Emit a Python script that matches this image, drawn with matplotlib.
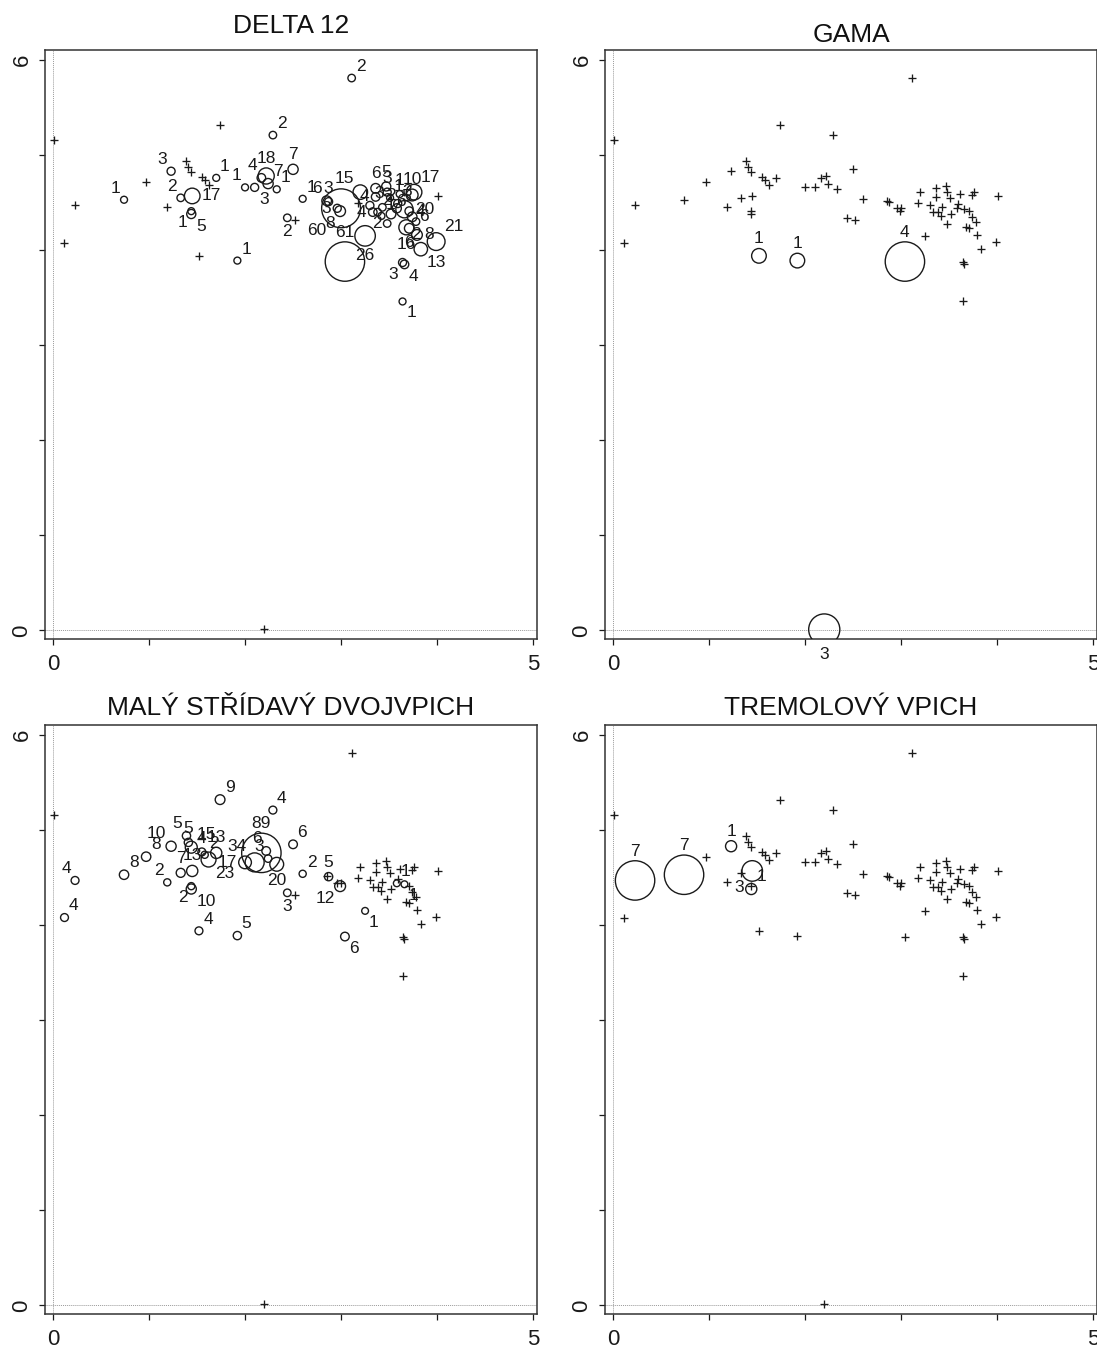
import matplotlib
matplotlib.use("Agg")
import matplotlib.pyplot as plt

plt.rcParams['font.family'] = ['Liberation Sans', 'DejaVu Sans']

# ---------------- data ----------------
titles = ["DELTA 12", "GAMA", "MALÝ STŘÍDAVÝ DVOJVPICH", "TREMOLOVÝ VPICH"]

# all sample positions (union of every panel)
pos_x = [0.01, 0.23, 0.12, 0.74, 0.97, 1.23, 1.19, 1.33, 1.39, 1.41,
         1.44, 1.45, 1.44, 1.44, 1.55, 1.58, 1.62, 1.70, 1.74, 2.00,
         2.10, 2.17, 2.22, 2.24, 2.33, 2.29, 2.50, 2.44, 2.52, 2.60,
         3.11, 2.85, 2.87, 2.96, 2.99, 3.20, 3.18, 3.25, 3.30, 3.36,
         3.36, 3.47, 3.48, 3.51, 3.61, 3.74, 3.76, 4.01, 3.43, 3.33,
         3.38, 3.42, 3.52, 3.59, 3.58, 3.66, 3.71, 3.74, 3.78, 3.48,
         3.68, 3.71, 3.79, 3.99, 3.83, 3.64, 3.66, 3.64, 1.52, 1.92,
         3.04, 2.20, 3.00]
pos_y = [5.16, 4.47, 4.08, 4.53, 4.72, 4.83, 4.45, 4.55, 4.94, 4.87,
         4.82, 4.57, 4.41, 4.38, 4.77, 4.74, 4.69, 4.76, 5.32, 4.66,
         4.66, 4.76, 4.78, 4.70, 4.64, 5.21, 4.85, 4.34, 4.32, 4.54,
         5.81, 4.52, 4.51, 4.44, 4.41, 4.61, 4.50, 4.15, 4.47, 4.65,
         4.56, 4.67, 4.61, 4.55, 4.59, 4.58, 4.61, 4.57, 4.45, 4.40,
         4.40, 4.36, 4.38, 4.49, 4.44, 4.43, 4.41, 4.35, 4.30, 4.28,
         4.24, 4.23, 4.16, 4.09, 4.01, 3.87, 3.85, 3.46, 3.94, 3.89,
         3.88, 0.01, 4.44]

# counts per panel: {position index: count}
delta_n = {3: 1, 5: 3, 7: 2, 11: 17, 12: 1, 13: 5, 17: 1, 19: 1, 20: 3, 21: 4,
           22: 18, 23: 7, 24: 1, 25: 2, 26: 7, 27: 2, 29: 1, 69: 1, 30: 2,
           31: 6, 32: 3, 33: 3, 34: 8, 72: 60, 70: 61, 37: 26, 35: 15, 38: 3,
           39: 6, 40: 4, 41: 5, 42: 3, 43: 1, 44: 1, 45: 10, 46: 17, 48: 2,
           49: 4, 50: 2, 51: 1, 52: 6, 53: 3, 54: 5, 55: 20, 56: 4, 57: 6,
           58: 2, 59: 2, 60: 16, 61: 6, 62: 8, 63: 21, 64: 13, 65: 3, 66: 4,
           67: 1}
gama_n = {68: 1, 69: 1, 70: 4, 71: 3}
maly_n = {1: 4, 2: 4, 3: 8, 4: 8, 5: 10, 6: 2, 7: 7, 8: 5, 9: 5, 10: 15,
          11: 13, 12: 2, 13: 10, 14: 4, 15: 2, 16: 23, 17: 13, 18: 9, 19: 17,
          20: 34, 21: 89, 22: 6, 23: 3, 24: 20, 25: 4, 26: 6, 27: 3, 29: 2,
          68: 4, 69: 5, 32: 5, 34: 12, 37: 1, 70: 6, 54: 1, 55: 1}
tremolo_n = {1: 7, 3: 7, 5: 1, 11: 3, 13: 1}

# label placement (direction codes), default upper-right
delta_lab = {3: 'ul', 5: 'ul', 7: 'ul', 11: 'r', 12: 'dl', 13: 'dr', 19: 'ul',
             20: 'dr', 21: 'ul', 22: 'u', 23: 'ur', 26: 'u', 27: 'd',
             72: 'dl', 70: 'u', 37: 'd', 33: 'l', 34: 'dl', 31: 'ul', 32: 'u',
             35: 'ul', 39: 'u', 41: 'u', 42: 'u', 44: 'u', 45: 'u', 46: 'ur',
             55: 'r', 56: 'r', 62: 'r', 64: 'dr', 65: 'dl', 66: 'dr', 67: 'dr',
             59: 'l', 60: 'd', 61: 'd', 58: 'd', 57: 'r', 40: 'l', 49: 'l'}
gama_lab = {68: 'u', 69: 'u', 70: 'u', 71: 'd'}
maly_lab = {1: 'ul', 5: 'ul', 6: 'ul', 7: 'u', 8: 'ul', 9: 'u', 11: 'u',
            12: 'dl', 13: 'dr', 16: 'dr', 17: 'u', 19: 'l', 20: 'ul', 21: 'u',
            22: 'ul', 23: 'ul', 24: 'd', 27: 'd', 34: 'dl', 37: 'dr', 70: 'dr',
            55: 'dr', 32: 'u', 15: 'ur', 14: 'u'}
tremolo_lab = {1: 'u', 3: 'u', 5: 'u', 11: 'dl', 13: 'ur'}

panels = [(delta_n, delta_lab), (gama_n, gama_lab),
          (maly_n, maly_lab), (tremolo_n, tremolo_lab)]

# ---------------- drawing ----------------
DPI = 100
fig = plt.figure(figsize=(10.97, 13.48), dpi=DPI)
W, H = 1097, 1348
boxes = [(45, 50), (605, 50), (45, 725), (605, 725)]
title_pad = [12, 6, 7.5, 7.5]
bw, bh = 492, 589
INK = '#1a1a1a'

PX2PT = 72.0 / DPI


def radius_px(n, nmax):
    return 3.2 + 16.5 * n / nmax


for k, ((counts, labs), (lx, ty)) in enumerate(zip(panels, boxes)):
    ax = fig.add_axes([lx / W, 1 - (ty + bh) / H, bw / W, bh / H])
    ax.set_xlim(-0.083, 5.04)
    ax.set_ylim(-0.09, 6.105)
    ax.axvline(0, color='#9a9a9a', lw=0.7, ls=(0, (1, 1)), zorder=0)
    ax.axhline(0, color='#9a9a9a', lw=0.7, ls=(0, (1, 1)), zorder=0)

    # plus marks: positions without this category
    px = [pos_x[i] for i in range(len(pos_x)) if i not in counts]
    py = [pos_y[i] for i in range(len(pos_y)) if i not in counts]
    ax.plot(px, py, ls='none', marker='+', ms=5.5, mew=0.95, color=INK)

    nmax = max(counts.values())
    cx = [pos_x[i] for i in counts]
    cy = [pos_y[i] for i in counts]
    sz = [(2 * radius_px(n, nmax) * PX2PT) ** 2 for n in counts.values()]
    ax.scatter(cx, cy, s=sz, facecolors='none', edgecolors=INK,
               linewidths=1.0, zorder=3)

    for i, n in counts.items():
        r = radius_px(n, nmax) * PX2PT
        d = r + 1.5
        code = labs.get(i, 'ur')
        c = 0.7 * d
        off, ha, va = {
            'u': ((0, d), 'center', 'bottom'),
            'd': ((0, -d), 'center', 'top'),
            'l': ((-d, 0), 'right', 'center'),
            'r': ((d, 0), 'left', 'center'),
            'ur': ((c, c), 'left', 'bottom'),
            'ul': ((-c, c), 'right', 'bottom'),
            'dr': ((c, -c), 'left', 'top'),
            'dl': ((-c, -c), 'right', 'top'),
        }[code]
        ax.annotate(str(n), (pos_x[i], pos_y[i]), xytext=off,
                    textcoords='offset points', ha=ha, va=va,
                    fontsize=12.5, color=INK, zorder=4)

    ax.set_xticks(range(0, 6))
    ax.set_xticklabels(['0', '', '', '', '', '5'])
    ax.set_yticks(range(0, 7))
    ax.set_yticklabels(['0', '', '', '', '', '', '6'])
    ax.tick_params(axis='both', direction='out', length=4, width=0.9,
                   labelsize=16, colors=INK)
    ax.tick_params(axis='x', pad=7)
    ax.tick_params(axis='y', pad=5, labelrotation=90)
    for lab in ax.get_yticklabels():
        lab.set_va('center')
    for sp in ax.spines.values():
        sp.set_linewidth(1.1)
        sp.set_color('#333333')
    ax.set_title(titles[k], fontsize=19, pad=title_pad[k], color='#111111')

fig.savefig('out.png', dpi=DPI)
